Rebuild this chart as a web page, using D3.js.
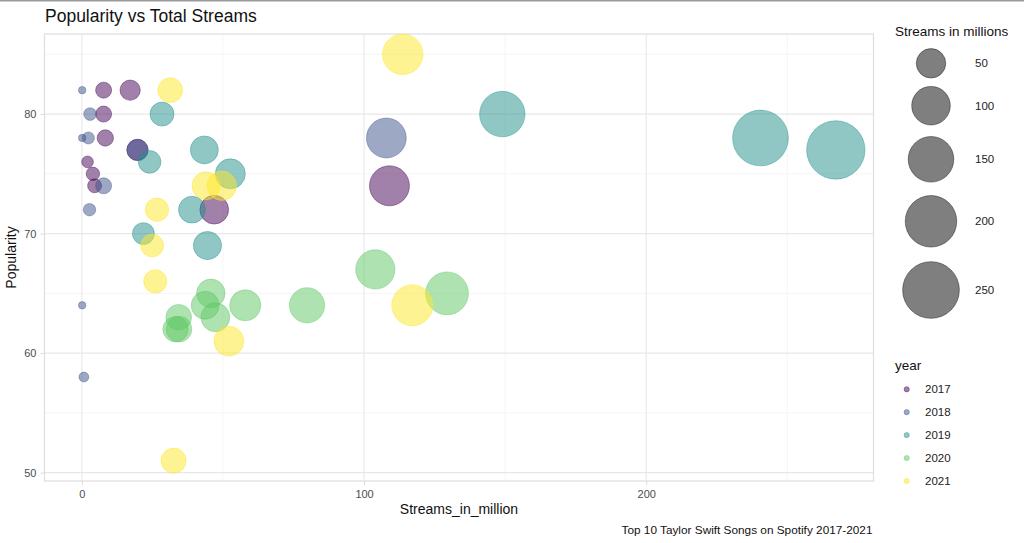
<!DOCTYPE html>
<html>
<head>
<meta charset="utf-8">
<script src="https://cdn.jsdelivr.net/npm/d3@7"></script>
<style>
  html, body { margin: 0; padding: 0; background: #fff; }
  svg { display: block; font-family: "Liberation Sans", Arial, sans-serif; }
</style>
</head>
<body>
<svg id="chart" width="1024" height="543"></svg>
<script>
// ---- data ----
const years = ["2017", "2018", "2019", "2020", "2021"];
const yearColors = ["#440154", "#3B528B", "#21908C", "#5DC863", "#FDE725"];
const streams2017 = [7.7, 17.1, 7.7, 8.3, 19.7, 2.0, 3.9, 4.5, 46.9, 109.0];
const popularity2017 = [82, 82, 80, 78, 77, 76, 75, 74, 72, 74];
const streams2018 = [0.1, 2.9, 0.1, 2.3, 19.7, 7.7, 2.7, 0.1, 0.7, 107.9];
const popularity2018 = [82, 80, 78, 78, 77, 74, 72, 64, 58, 78];
const streams2019 = [28.4, 24.0, 43.4, 52.6, 39.0, 21.8, 44.5, 149.0, 240.5, 267.2];
const popularity2019 = [80, 76, 77, 75, 72, 70, 69, 80, 78, 77];
const streams2020 = [45.7, 43.7, 57.9, 34.3, 47.3, 33.2, 34.4, 104.0, 79.8, 129.4];
const popularity2020 = [65, 64, 64, 63, 63, 62, 62, 67, 64, 65];
const streams2021 = [31.3, 44.0, 49.6, 26.6, 24.9, 26.0, 52.1, 32.5, 113.7, 117.1];
const popularity2021 = [82, 74, 74, 72, 69, 66, 61, 51, 85, 64];
const xTicks = [0, 100, 200];
const yTicks = [50, 60, 70, 80];
const sizeBreaks = [50, 100, 150, 200, 250];

const streamsByYear = [streams2017, streams2018, streams2019, streams2020, streams2021];
const popByYear = [popularity2017, popularity2018, popularity2019, popularity2020, popularity2021];
const points = [];
years.forEach((y, i) => streamsByYear[i].forEach((s, j) => points.push({year: y, streams: s, pop: popByYear[i][j]})));

// ---- layout ----
const svg = d3.select("#chart");
const P = {left: 44.5, right: 873.5, top: 34, bottom: 481};

const minS = d3.min(points, d => d.streams), maxS = d3.max(points, d => d.streams);
const minP = d3.min(points, d => d.pop), maxP = d3.max(points, d => d.pop);
const ex = (maxS - minS) * 0.05, ey = (maxP - minP) * 0.05;
const x = d3.scaleLinear().domain([minS - ex, maxS + ex]).range([P.left, P.right]);
const y = d3.scaleLinear().domain([minP - ey, maxP + ey]).range([P.bottom, P.top]);
const rS = d3.scaleSqrt().domain([0, maxS - minS]).range([3.7, 29.2]);
const r = v => rS(Math.max(0, v - minS));
const color = d3.scaleOrdinal().domain(years).range(yearColors);

// top border line of image
svg.append("rect").attr("x", 0).attr("y", 0).attr("width", 1024).attr("height", 1.5).attr("fill", "#9a9a9a");

// title
svg.append("text").attr("x", 45).attr("y", 22).attr("font-size", 17.5).attr("fill", "#111")
  .text("Popularity vs Total Streams");

// grid
const g = svg.append("g");
const xMinor = [50, 150, 250], yMinor = [55, 65, 75, 85];
g.selectAll(".xminor").data(xMinor).join("line")
  .attr("x1", d => x(d)).attr("x2", d => x(d)).attr("y1", P.top).attr("y2", P.bottom)
  .attr("stroke", "#f2f2f2").attr("stroke-width", 0.8);
g.selectAll(".yminor").data(yMinor).join("line")
  .attr("y1", d => y(d)).attr("y2", d => y(d)).attr("x1", P.left).attr("x2", P.right)
  .attr("stroke", "#f2f2f2").attr("stroke-width", 0.8);
g.selectAll(".xmajor").data(xTicks).join("line")
  .attr("x1", d => x(d)).attr("x2", d => x(d)).attr("y1", P.top).attr("y2", P.bottom)
  .attr("stroke", "#e8e8e8").attr("stroke-width", 1.1);
g.selectAll(".ymajor").data(yTicks).join("line")
  .attr("y1", d => y(d)).attr("y2", d => y(d)).attr("x1", P.left).attr("x2", P.right)
  .attr("stroke", "#e8e8e8").attr("stroke-width", 1.1);
// panel border
svg.append("rect").attr("x", P.left).attr("y", P.top).attr("width", P.right - P.left).attr("height", P.bottom - P.top)
  .attr("fill", "none").attr("stroke", "#dedede").attr("stroke-width", 1.2);

// axes
const xAxis = svg.append("g").attr("transform", `translate(0,${P.bottom})`)
  .call(d3.axisBottom(x).tickValues(xTicks).tickSize(4).tickPadding(5));
const yAxis = svg.append("g").attr("transform", `translate(${P.left},0)`)
  .call(d3.axisLeft(y).tickValues(yTicks).tickSize(4).tickPadding(4));
[xAxis, yAxis].forEach(a => {
  a.select(".domain").remove();
  a.selectAll(".tick line").attr("stroke", "#dcdcdc");
  a.selectAll(".tick text").attr("fill", "#4d4d4d").attr("font-size", 11)
    .attr("font-family", "Liberation Sans, Arial, sans-serif");
});

// axis titles
svg.append("text").attr("x", (P.left + P.right) / 2).attr("y", 514).attr("text-anchor", "middle")
  .attr("font-size", 14).attr("fill", "#111").text("Streams_in_million");
svg.append("text").attr("transform", `translate(16,${(P.top + P.bottom) / 2}) rotate(-90)`)
  .attr("text-anchor", "middle").attr("font-size", 14).attr("fill", "#111").text("Popularity");

// caption
svg.append("text").attr("x", P.right - 1).attr("y", 534).attr("text-anchor", "end")
  .attr("font-size", 11.8).attr("fill", "#111").text("Top 10 Taylor Swift Songs on Spotify 2017-2021");

// points
svg.append("g").selectAll("circle").data(points).join("circle")
  .attr("cx", d => x(d.streams)).attr("cy", d => y(d.pop)).attr("r", d => r(d.streams))
  .attr("fill", d => color(d.year)).attr("fill-opacity", 0.5)
  .attr("stroke", d => color(d.year)).attr("stroke-opacity", 0.5).attr("stroke-width", 0.8);

// size legend
const sl = svg.append("g");
sl.append("text").attr("x", 895).attr("y", 36).attr("font-size", 13.5).attr("fill", "#111").text("Streams in millions");
const sizeY = [63.3, 105.7, 159.3, 221.3, 290];
sl.selectAll("circle").data(sizeBreaks).join("circle")
  .attr("cx", 931).attr("cy", (d, i) => sizeY[i]).attr("r", d => r(d))
  .attr("fill", "#000").attr("fill-opacity", 0.5)
  .attr("stroke", "#000").attr("stroke-opacity", 0.5).attr("stroke-width", 0.8);
sl.selectAll("text.lab").data(sizeBreaks).join("text").attr("class", "lab")
  .attr("x", 975).attr("y", (d, i) => sizeY[i] + 4).attr("font-size", 11.5).attr("fill", "#222").text(d => d);

// year legend
const yl = svg.append("g");
yl.append("text").attr("x", 895).attr("y", 370).attr("font-size", 13.5).attr("fill", "#111").text("year");
yl.selectAll("circle").data(years).join("circle")
  .attr("cx", 906.7).attr("cy", (d, i) => 389.3 + i * 22.9).attr("r", 2.6)
  .attr("fill", d => color(d)).attr("fill-opacity", 0.5)
  .attr("stroke", d => color(d)).attr("stroke-opacity", 0.5).attr("stroke-width", 0.8);
yl.selectAll("text.lab").data(years).join("text").attr("class", "lab")
  .attr("x", 925).attr("y", (d, i) => 389.3 + i * 22.9 + 4).attr("font-size", 11.5).attr("fill", "#222").text(d => d);
</script>
</body>
</html>
